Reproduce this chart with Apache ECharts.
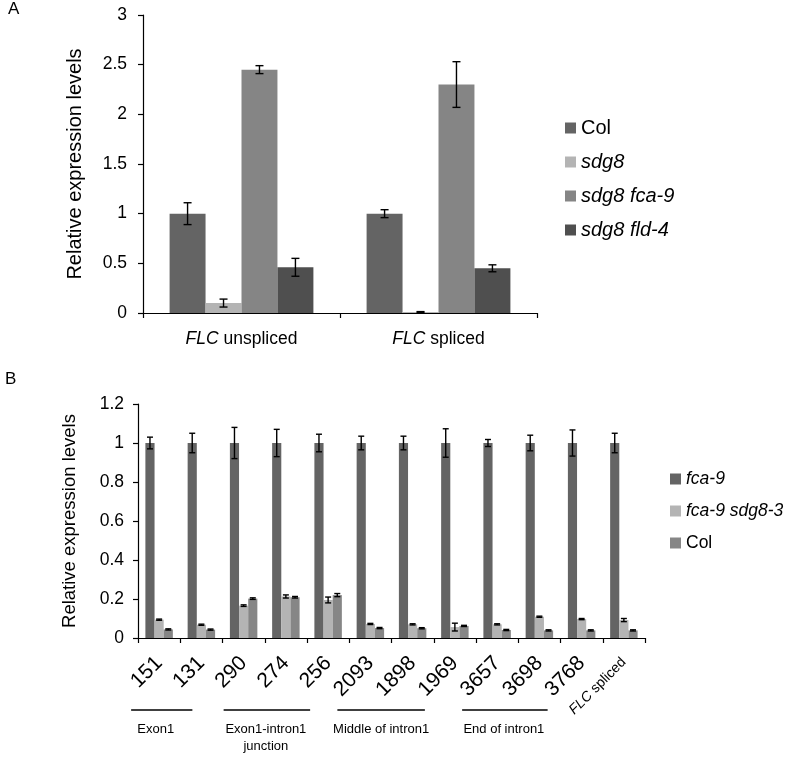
<!DOCTYPE html>
<html>
<head>
<meta charset="utf-8">
<script src="https://cdn.jsdelivr.net/npm/echarts@6/dist/echarts.min.js"></script>
<style>html,body{margin:0;padding:0;background:#fff}#c{width:793px;height:761px}</style>
</head>
<body>
<div id="c"></div>
<script>
// ---------- Panel A data ----------
const catsA = ['FLC unspliced', 'FLC spliced'];
const seriesNamesA = ['Col', 'sdg8', 'sdg8 fca-9', 'sdg8 fld-4'];
const valA_Col = [1.0, 1.0];
const errA_Col = [0.11, 0.04];
const valA_sdg8 = [0.10, 0.01];
const errA_sdg8 = [0.04, 0.004];
const valA_fca9 = [2.45, 2.30];
const errA_fca9 = [0.04, 0.23];
const valA_fld4 = [0.46, 0.45];
const errA_fld4 = [0.09, 0.035];
const yTicksA = [0, 0.5, 1, 1.5, 2, 2.5, 3];

// ---------- Panel B data ----------
const catsB = ['151', '131', '290', '274', '256', '2093', '1898', '1969', '3657', '3698', '3768', 'FLC spliced'];
const seriesNamesB = ['fca-9', 'fca-9 sdg8-3', 'Col'];
const valB_fca9 = [1, 1, 1, 1, 1, 1, 1, 1, 1, 1, 1, 1];
const errB_fca9 = [0.03, 0.05, 0.08, 0.07, 0.045, 0.035, 0.035, 0.073, 0.018, 0.04, 0.067, 0.05];
const valB_sdg83 = [0.094, 0.068, 0.166, 0.213, 0.195, 0.072, 0.070, 0.056, 0.070, 0.109, 0.097, 0.092];
const errB_sdg83 = [0.003, 0.003, 0.004, 0.008, 0.015, 0.003, 0.003, 0.02, 0.003, 0.003, 0.003, 0.008];
const valB_col = [0.044, 0.043, 0.202, 0.209, 0.220, 0.051, 0.050, 0.062, 0.041, 0.039, 0.039, 0.039];
const errB_col = [0.003, 0.003, 0.004, 0.004, 0.008, 0.003, 0.003, 0.003, 0.003, 0.003, 0.003, 0.003];
const yTicksB = [0, 0.2, 0.4, 0.6, 0.8, 1, 1.2];

// group annotations for panel B (category index ranges)
const groupNamesB = ['Exon1', 'Exon1-intron1\njunction', 'Middle of intron1', 'End of intron1'];
const groupFirstB = [0, 2, 5, 8];
const groupLastB = [1, 4, 7, 10];

// ---------- style / layout ----------
const FONT = '"Liberation Sans", Arial, Helvetica, sans-serif';
const colorsA = ['#646464', '#b4b4b4', '#858585', '#4f4f4f'];
const colorsB = ['#646464', '#b4b4b4', '#868686'];
const gapA = 0.27, gapB = 0.35;
const groupStartOff = [-28, -20, -33, -35];
const groupEndOff = [-9, -18, -30, -34];
const groupTextShift = [-6, -1, 0, -1];

const chart = echarts.init(document.getElementById('c'), null, {renderer: 'canvas'});

function errSeries(name, xAxisIndex, yAxisIndex, vals, errs, k, n, catGap, capHalf) {
  return {
    type: 'custom', name: name + '_err', xAxisIndex, yAxisIndex, z: 10,
    silent: true, legendHoverLink: false,
    data: vals.map((v, i) => [i, v, errs[i]]),
    renderItem: function (params, api) {
      const xi = api.value(0), v = api.value(1), e = api.value(2);
      const band = api.size([1, 0])[0];
      const total = band * (1 - catGap);
      const w = total / n;
      const cx = api.coord([xi, v])[0] - total / 2 + w * (k + 0.5);
      const top = api.coord([xi, v + e])[1];
      const bot = api.coord([xi, Math.max(0, v - e)])[1];
      const st = {stroke: '#000', lineWidth: 1.4};
      return {type: 'group', children: [
        {type: 'line', shape: {x1: cx, y1: top, x2: cx, y2: bot}, style: st},
        {type: 'line', shape: {x1: cx - capHalf, y1: top, x2: cx + capHalf, y2: top}, style: st},
        {type: 'line', shape: {x1: cx - capHalf, y1: bot, x2: cx + capHalf, y2: bot}, style: st}
      ]};
    }
  };
}

const valsA = [valA_Col, valA_sdg8, valA_fca9, valA_fld4];
const errsA = [errA_Col, errA_sdg8, errA_fca9, errA_fld4];
const valsB = [valB_fca9, valB_sdg83, valB_col];
const errsB = [errB_fca9, errB_sdg83, errB_col];

const series = [];
seriesNamesA.forEach((nm, k) => {
  series.push({type: 'bar', name: nm, xAxisIndex: 0, yAxisIndex: 0, data: valsA[k],
    barGap: '0%', barCategoryGap: (gapA * 100) + '%', itemStyle: {color: colorsA[k]}, emphasis: {disabled: true}});
});
seriesNamesA.forEach((nm, k) => series.push(errSeries(nm, 0, 0, valsA[k], errsA[k], k, 4, gapA, 4)));
seriesNamesB.forEach((nm, k) => {
  series.push({type: 'bar', name: nm + ' ', xAxisIndex: 1, yAxisIndex: 1, data: valsB[k],
    barGap: '0%', barCategoryGap: (gapB * 100) + '%', itemStyle: {color: colorsB[k]}, emphasis: {disabled: true}});
});
seriesNamesB.forEach((nm, k) => series.push(errSeries(nm + ' ', 1, 1, valsB[k], errsB[k], k, 3, gapB, 3)));

const axisLineStyle = {lineStyle: {color: '#000', width: 1.2}};
const tickStyle = {show: true, length: 5, lineStyle: {color: '#000', width: 1.2}};

function legendItem(name, italic) {
  return {name: name, textStyle: {fontStyle: italic ? 'italic' : 'normal'}};
}

const option = {
  animation: false,
  backgroundColor: '#fff',
  textStyle: {fontFamily: FONT},
  grid: [
    {left: 143, top: 15, width: 394, height: 298},
    {left: 138, top: 404, width: 507, height: 234}
  ],
  legend: [
    {orient: 'vertical', left: 560, top: 113, itemWidth: 11, itemHeight: 11, itemGap: 14,
      icon: 'rect', selectedMode: false,
      textStyle: {fontFamily: FONT, fontSize: 20, color: '#000'},
      data: [legendItem('Col', false), legendItem('sdg8', true), legendItem('sdg8 fca-9', true), legendItem('sdg8 fld-4', true)]},
    {orient: 'vertical', left: 665, top: 465, itemWidth: 11, itemHeight: 11, itemGap: 14,
      icon: 'rect', selectedMode: false,
      formatter: n => n.trim(),
      textStyle: {fontFamily: FONT, fontSize: 17.5, color: '#000'},
      data: [legendItem('fca-9 ', true), legendItem('fca-9 sdg8-3 ', true), legendItem('Col ', false)]}
  ],
  xAxis: [
    {type: 'category', gridIndex: 0, data: catsA,
      axisLine: axisLineStyle, axisTick: Object.assign({alignWithLabel: false, interval: 0}, tickStyle),
      axisLabel: {interval: 0, margin: 17, fontSize: 17.5, color: '#000', fontFamily: FONT,
        formatter: function (v) { const p = v.split(' '); return '{i|' + p[0] + '} ' + p.slice(1).join(' '); },
        rich: {i: {fontStyle: 'italic', fontSize: 17.5, color: '#000', fontFamily: FONT}}}},
    {type: 'category', gridIndex: 1, data: catsB,
      axisLine: axisLineStyle, axisTick: Object.assign({interval: 0}, tickStyle),
      axisLabel: {interval: 0, rotate: 45, margin: 22, fontSize: 21, color: '#000', fontFamily: FONT,
        formatter: function (v) { if (v.indexOf(' ') < 0) return v; const p = v.split(' '); return '{i|' + p[0] + '}{s| ' + p[1] + '}'; },
        rich: {i: {fontStyle: 'italic', fontSize: 14, color: '#000', fontFamily: FONT},
               s: {fontSize: 14, color: '#000', fontFamily: FONT}}}}
  ],
  yAxis: [
    {type: 'value', gridIndex: 0, min: yTicksA[0], max: yTicksA[yTicksA.length - 1], interval: yTicksA[1] - yTicksA[0],
      name: 'Relative expression levels', nameLocation: 'middle', nameGap: 58,
      nameTextStyle: {fontSize: 20, color: '#000', fontFamily: FONT},
      axisLine: Object.assign({show: true}, axisLineStyle), axisTick: tickStyle, splitLine: {show: false},
      axisLabel: {fontSize: 17.5, color: '#000', margin: 16, fontFamily: FONT}},
    {type: 'value', gridIndex: 1, min: yTicksB[0], max: yTicksB[yTicksB.length - 1], interval: 0.2,
      name: 'Relative expression levels', nameLocation: 'middle', nameGap: 59,
      nameTextStyle: {fontSize: 18.5, color: '#000', fontFamily: FONT},
      axisLine: Object.assign({show: true}, axisLineStyle), axisTick: tickStyle, splitLine: {show: false},
      axisLabel: {fontSize: 17.5, color: '#000', margin: 14, fontFamily: FONT,
        formatter: v => String(Math.round(v * 10) / 10)}}
  ],
  series: series
};
chart.setOption(option);

// panel letters + group annotations for panel B
const graphics = [
  {type: 'text', left: 8, top: 1, style: {text: 'A', fontSize: 17, fontFamily: FONT, fill: '#000'}},
  {type: 'text', left: 5, top: 371, style: {text: 'B', fontSize: 17, fontFamily: FONT, fill: '#000'}}
];
const lineY = 710;
groupNamesB.forEach((nm, g) => {
  const c0 = chart.convertToPixel({xAxisIndex: 1}, catsB[groupFirstB[g]]);
  const c1 = chart.convertToPixel({xAxisIndex: 1}, catsB[groupLastB[g]]);
  const x0 = c0 + groupStartOff[g], x1 = c1 + groupEndOff[g];
  graphics.push({type: 'line', shape: {x1: x0, y1: lineY, x2: x1, y2: lineY}, style: {stroke: '#000', lineWidth: 1.5}});
  graphics.push({type: 'text', x: (x0 + x1) / 2 + groupTextShift[g], y: lineY + 11,
    style: {text: nm, fontSize: 13, fontFamily: FONT, fill: '#000', align: 'center', verticalAlign: 'top', lineHeight: 17}});
});
chart.setOption({graphic: graphics});
</script>
</body>
</html>
